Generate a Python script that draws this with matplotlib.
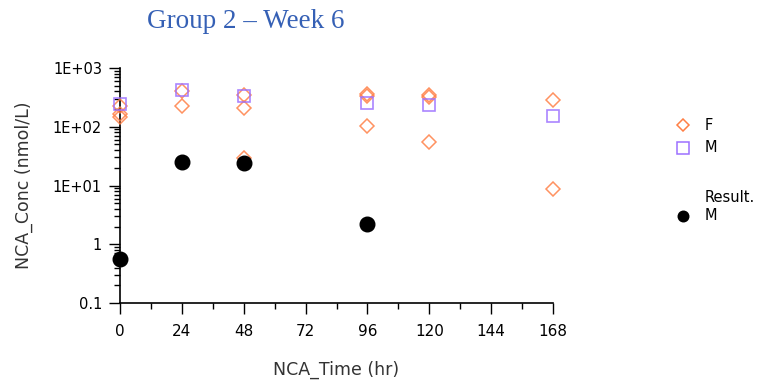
import matplotlib
matplotlib.use('Agg')
import matplotlib.pyplot as plt
from matplotlib.lines import Line2D
from matplotlib.ticker import FixedLocator, LogLocator, NullFormatter

# Данные
f_time = [0, 0, 0, 24, 24, 48, 48, 48, 96, 96, 96, 120, 120, 120, 168, 168]
f_conc = [229, 165, 145, 400, 223, 350, 205, 29, 360, 340, 103, 345, 325, 55, 280, 8.7]

m_time = [0, 24, 48, 96, 120, 168]
m_conc = [245, 415, 340, 256, 230, 153]

res_time = [0, 24, 48, 96]
res_conc = [0.57, 25.4, 23.7, 2.24]

x_ticks = [0, 24, 48, 72, 96, 120, 144, 168]
y_ticks = [0.1, 1, 10, 100, 1000]
y_labels = ['0.1', '1', '1E+01', '1E+02', '1E+03']

F_COLOR = '#FF7F45'
M_COLOR = '#9C70FF'

fig = plt.figure(figsize=(7.62, 3.80), dpi=100)
ax = fig.add_axes([120 / 762, 1 - 303 / 380, 433 / 762, 235 / 380])

ax.plot(f_time, f_conc, linestyle='none', marker='D', markersize=7,
        markerfacecolor='none', markeredgecolor=F_COLOR, markeredgewidth=1.1,
        alpha=0.85, clip_on=False, zorder=3)
ax.plot(m_time, m_conc, linestyle='none', marker='s', markersize=8.5,
        markerfacecolor='none', markeredgecolor=M_COLOR, markeredgewidth=1.2,
        alpha=0.85, clip_on=False, zorder=3)
ax.plot(res_time, res_conc, linestyle='none', marker='o', markersize=10.5,
        color='black', clip_on=False, zorder=4)

ax.set_yscale('log')
ax.set_ylim(0.1, 1000)
ax.set_xlim(0, 168)

ax.xaxis.set_major_locator(FixedLocator(x_ticks))
ax.xaxis.set_minor_locator(FixedLocator([t + 12 for t in x_ticks[:-1]]))
ax.set_xticklabels([str(t) for t in x_ticks])
ax.yaxis.set_major_locator(FixedLocator(y_ticks))
ax.yaxis.set_minor_locator(LogLocator(base=10, subs=range(2, 10)))
ax.yaxis.set_minor_formatter(NullFormatter())
ax.set_yticklabels(y_labels)

ax.tick_params(axis='x', which='major', direction='out', length=8,
               width=1, labelsize=11, pad=7)
ax.tick_params(axis='y', which='major', direction='out', length=8,
               width=1, labelsize=10.5, pad=5)
ax.tick_params(axis='both', which='minor', direction='out', length=4, width=1)

for side in ['top', 'right']:
    ax.spines[side].set_visible(False)
for side in ['left', 'bottom']:
    ax.spines[side].set_linewidth(1.2)

ax.set_xlabel('NCA_Time (hr)', fontsize=12.5, labelpad=16, color='#333333')
ax.set_ylabel('NCA_Conc (nmol/L)', fontsize=12.5, labelpad=14, color='#333333')

# Заголовок
fig.text(147 / 762, 1 - 21 / 380, 'Group 2 \u2013 Week 6', family='Liberation Serif',
         fontsize=19.5, color='#3560B5', ha='left', va='center')

# Легенда
def legend_item(y, marker, size, face, edge, label):
    fig.add_artist(Line2D([683 / 762], [1 - y / 380], transform=fig.transFigure,
                          marker=marker, markersize=size, markerfacecolor=face,
                          markeredgecolor=edge, markeredgewidth=1.1, linestyle='none'))
    fig.text(705 / 762, 1 - y / 380, label, fontsize=10.5, ha='left', va='center')

legend_item(125, 'D', 6, 'none', F_COLOR, 'F')
legend_item(148, 's', 8, 'none', M_COLOR, 'M')
fig.text(705 / 762, 1 - 198 / 380, 'Result.', fontsize=10.5, ha='left', va='center')
legend_item(216, 'o', 7.5, 'black', 'black', 'M')

fig.savefig('out.png', dpi=100)
